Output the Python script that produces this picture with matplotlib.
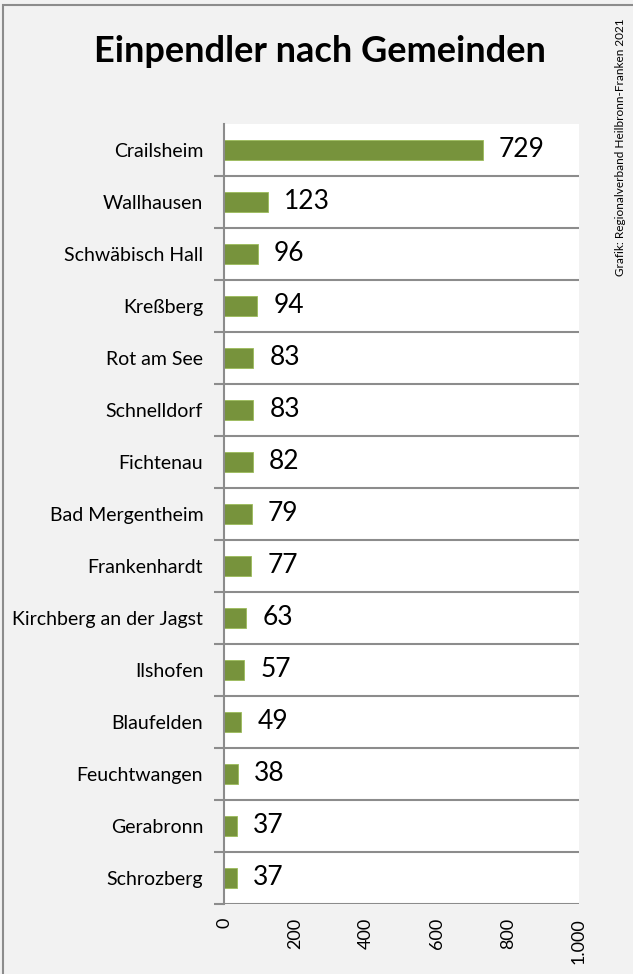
import matplotlib.pyplot as plt
from matplotlib.patches import Rectangle
import numpy as np

plt.rcParams['font.family'] = ['Lato', 'DejaVu Sans']

gemeinden = ["Crailsheim", "Wallhausen", "Schwäbisch Hall", "Kreßberg", "Rot am See",
             "Schnelldorf", "Fichtenau", "Bad Mergentheim", "Frankenhardt",
             "Kirchberg an der Jagst", "Ilshofen", "Blaufelden", "Feuchtwangen",
             "Gerabronn", "Schrozberg"]
einpendler = [729, 123, 96, 94, 83, 83, 82, 79, 77, 63, 57, 49, 38, 37, 37]
x_ticks = [0, 200, 400, 600, 800, 1000]
x_tick_labels = ["0", "200", "400", "600", "800", "1.000"]

fig = plt.figure(figsize=(6.33, 9.74), dpi=100, facecolor="#f2f2f2")
ax = fig.add_axes([0.3539, 0.0719, 0.5608, 0.8008])
ax.set_facecolor("white")

y = np.arange(len(gemeinden))
ax.barh(y, einpendler, height=0.39, color="#77933c", edgecolor="#9bbb59", linewidth=0.6)

for yi, v in zip(y, einpendler):
    ax.text(v + 45, yi, str(v), va="center", ha="left", fontsize=19)

ax.set_xlim(0, 1000)
ax.set_ylim(len(gemeinden) - 0.5, -0.5)

ax.set_yticks(y)
ax.set_yticklabels(gemeinden, fontsize=14)
ax.set_yticks(np.arange(len(gemeinden)) + 0.5, minor=True)
ax.tick_params(axis="y", which="major", length=0, pad=15)
ax.tick_params(axis="y", which="minor", length=7, width=1.5, color="#8c8c8c")
ax.grid(axis="y", which="minor", color="#8c8c8c", linewidth=1.5)

ax.set_xticks(x_ticks)
ax.set_xticklabels(x_tick_labels, rotation=90, fontsize=13, va="top", ha="center")
ax.tick_params(axis="x", length=0, pad=10)

for s in ["top", "right"]:
    ax.spines[s].set_visible(False)
ax.spines["left"].set_color("#8c8c8c")
ax.spines["left"].set_linewidth(1.5)
ax.spines["bottom"].set_visible(False)

fig.text(0.506, 1 - 52 / 974, "Einpendler nach Gemeinden", ha="center", va="center",
         fontsize=26, fontweight="bold")
fig.text(1 - 13 / 633, 1 - 18 / 974, "Grafik: Regionalverband Heilbronn-Franken 2021",
         rotation=90, ha="center", va="top", fontsize=8.5)

fig.patches.append(Rectangle((3 / 633, -0.1), 1.2, 1.1 - 5 / 974, transform=fig.transFigure,
                             fill=False, edgecolor="#8c8c8c", linewidth=1.5))

fig.savefig("out.png", dpi=100, facecolor=fig.get_facecolor())
